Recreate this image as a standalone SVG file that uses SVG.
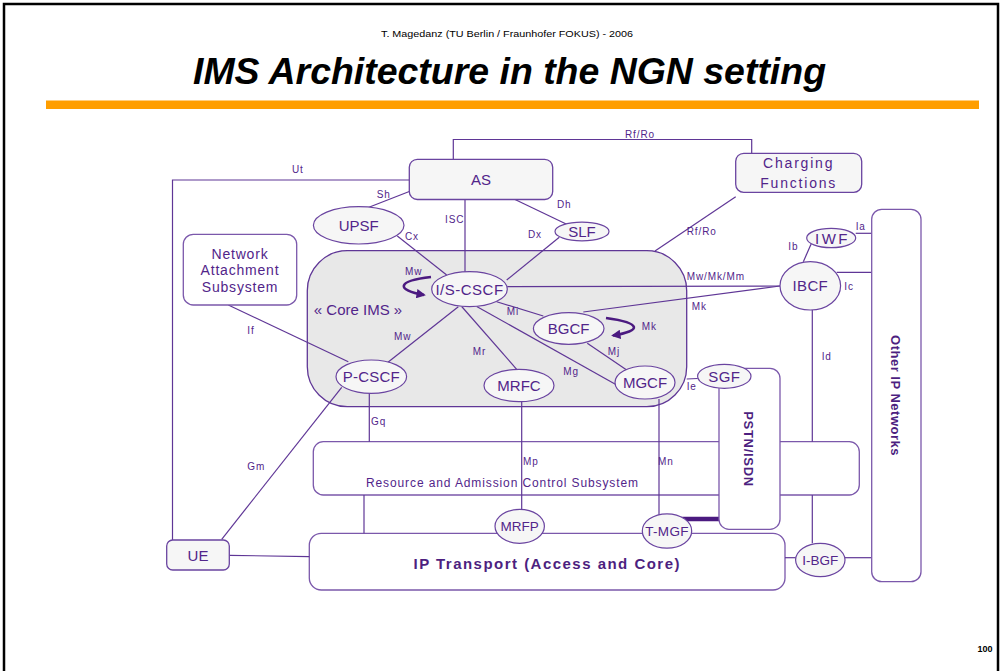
<svg xmlns="http://www.w3.org/2000/svg" width="1002" height="671" viewBox="0 0 1002 671">
<style>
text{font-family:"Liberation Sans",Arial,sans-serif;fill:#52258a}
.lbl{font-size:10px;letter-spacing:0.9px}
.nt{font-size:15px;text-anchor:middle}
.st{font-size:13.5px;text-anchor:middle}
.ell{fill:#f6f6f6;stroke:#6a44a0;stroke-width:1.2}
.box{fill:#fff;stroke:#7b58ab;stroke-width:1.3}
.gbox{fill:#f6f6f6;stroke:#6a44a0;stroke-width:1.3}
.conn line,.conn polyline{stroke:#5f3696;stroke-width:1.2;fill:none}
.loop{stroke:#4b1a80;stroke-width:2.6;fill:none}
</style>
<defs>
<marker id="ah" viewBox="0 0 10 10" refX="8" refY="5" markerWidth="3.6" markerHeight="3.6" orient="auto">
<path d="M0,0 L10,5 L0,10 z" fill="#4b1a80"/>
</marker>
</defs>
<rect width="1002" height="671" fill="#fff"/>
<path d="M4,671 L4,4 L998,4 L998,671" fill="none" stroke="#000" stroke-width="2.5"/>
<text x="507" y="36.5" style="font-size:9.5px;fill:#000" text-anchor="middle" textLength="252" lengthAdjust="spacingAndGlyphs">T. Magedanz (TU Berlin / Fraunhofer FOKUS) - 2006</text>
<text x="509.5" y="84" style="font-size:36px;font-weight:bold;font-style:italic;fill:#000" text-anchor="middle" textLength="633" lengthAdjust="spacingAndGlyphs">IMS Architecture in the NGN setting</text>
<rect x="46" y="100.5" width="933" height="8.5" fill="#ff9e00"/>
<text x="985" y="652" style="font-size:9px;font-weight:bold;fill:#000" text-anchor="middle">100</text>

<g id="core-ims">
<rect x="307.3" y="250.7" width="379.4" height="156" rx="40" fill="#e8e8e8" stroke="#5f3696" stroke-width="1.3"/>
<text x="358" y="314.5" style="font-size:15px" text-anchor="middle">« Core IMS »</text>
</g>
<g id="racs">
<rect class="box" x="313.3" y="441.7" width="546" height="53.3" rx="10"/>
<text x="502" y="486.5" style="font-size:12px" text-anchor="middle" textLength="272" lengthAdjust="spacing">Resource and Admission Control Subsystem</text>
</g>
<g id="ip-transport">
<rect class="box" x="309.3" y="533.3" width="475.7" height="56.7" rx="12"/>
<text x="546.5" y="569" style="font-size:15px;font-weight:bold;fill:#4d1f80" text-anchor="middle" textLength="266" lengthAdjust="spacing">IP Transport (Access and Core)</text>
</g>

<g id="connectors" class="conn">
<polyline points="453.3,159.3 453.3,139.5 751.7,139.5 751.7,153.3"/>
<polyline points="409.3,180 172.5,180 172.5,540"/>
<line x1="409.3" y1="191.5" x2="368.3" y2="207.5"/>
<line x1="397.3" y1="236" x2="446.7" y2="275"/>
<line x1="465" y1="199.5" x2="465" y2="271.7"/>
<line x1="515" y1="199.5" x2="566.7" y2="224.3"/>
<line x1="559.3" y1="237.3" x2="506.7" y2="280"/>
<line x1="655" y1="251" x2="735.7" y2="196.7"/>
<line x1="507.3" y1="286.7" x2="780" y2="286"/>
<line x1="583.3" y1="312" x2="780" y2="286"/>
<line x1="496.7" y1="301.7" x2="543.3" y2="316"/>
<line x1="461.7" y1="306.5" x2="516.7" y2="369.3"/>
<line x1="476.7" y1="306.5" x2="616.7" y2="385"/>
<line x1="458.3" y1="306.7" x2="386.7" y2="363.3"/>
<line x1="587.3" y1="343.3" x2="626.7" y2="370"/>
<line x1="228.3" y1="305" x2="348.3" y2="361.7"/>
<line x1="369.3" y1="393" x2="369.3" y2="441.7"/>
<line x1="341.7" y1="387.3" x2="221.7" y2="539.3"/>
<line x1="521.7" y1="401.7" x2="521.7" y2="509.3"/>
<line x1="659" y1="399" x2="659" y2="515"/>
<line x1="364" y1="495" x2="364" y2="533.3"/>
<line x1="229.3" y1="555.3" x2="309.3" y2="556.7"/>
<line x1="686.7" y1="379" x2="697.7" y2="378.5"/>
<line x1="855.7" y1="233.3" x2="871.7" y2="233.3"/>
<line x1="811.7" y1="242.7" x2="803.3" y2="261.7"/>
<line x1="836.7" y1="272.3" x2="871.7" y2="272.3"/>
<line x1="812.3" y1="310" x2="812.3" y2="441.7"/>
<line x1="812.3" y1="495" x2="812.3" y2="543.3"/>
<line x1="785" y1="557.7" x2="795.7" y2="557.7"/>
<line x1="845" y1="557.7" x2="871.7" y2="557.7"/>
<line x1="680" y1="519" x2="719" y2="519" style="stroke:#4b1a80;stroke-width:4.3"/>
<path class="loop" d="M431,277 C396,281 396,290 424,295" marker-end="url(#ah)"/>
<path class="loop" d="M606,318 C642,323 642,331 613,335.5" marker-end="url(#ah)"/>
<text class="lbl" x="292" y="172.5">Ut</text>
<text class="lbl" x="376.7" y="197.5">Sh</text>
<text class="lbl" x="445" y="223">ISC</text>
<text class="lbl" x="557" y="208">Dh</text>
<text class="lbl" x="528" y="238">Dx</text>
<text class="lbl" x="405" y="240">Cx</text>
<text class="lbl" x="625" y="137.5">Rf/Ro</text>
<text class="lbl" x="686.7" y="234.5">Rf/Ro</text>
<text class="lbl" x="405" y="275">Mw</text>
<text class="lbl" x="686.7" y="279.5">Mw/Mk/Mm</text>
<text class="lbl" x="691.7" y="309.5">Mk</text>
<text class="lbl" x="506.7" y="314.5">Mi</text>
<text class="lbl" x="641.7" y="330">Mk</text>
<text class="lbl" x="607.7" y="354.5">Mj</text>
<text class="lbl" x="472.7" y="354.5">Mr</text>
<text class="lbl" x="563.3" y="375">Mg</text>
<text class="lbl" x="394" y="340">Mw</text>
<text class="lbl" x="247.3" y="333.5">If</text>
<text class="lbl" x="371" y="425">Gq</text>
<text class="lbl" x="247.3" y="469.5">Gm</text>
<text class="lbl" x="523" y="465">Mp</text>
<text class="lbl" x="658" y="465">Mn</text>
<text class="lbl" x="686.7" y="390">Ie</text>
<text class="lbl" x="855.7" y="229.5">Ia</text>
<text class="lbl" x="788.3" y="250">Ib</text>
<text class="lbl" x="844.3" y="289.5">Ic</text>
<text class="lbl" x="821.7" y="360">Id</text>
</g>

<g id="as">
<rect class="gbox" x="409.3" y="159.3" width="143.4" height="40.2" rx="8"/>
<text class="nt" x="481" y="185">AS</text>
</g>
<g id="charging">
<rect class="gbox" x="735.7" y="153.3" width="126" height="39" rx="8"/>
<text x="798.7" y="168" style="font-size:14px;letter-spacing:1.8px" text-anchor="middle">Charging</text>
<text x="798.7" y="187.5" style="font-size:14px;letter-spacing:1.8px" text-anchor="middle">Functions</text>
</g>
<g id="upsf">
<ellipse class="ell" cx="358.7" cy="225.3" rx="45.3" ry="18.7"/>
<text class="nt" x="358.7" y="230.5">UPSF</text>
</g>
<g id="slf">
<ellipse class="ell" cx="582" cy="231.5" rx="27" ry="9.3"/>
<text class="nt" x="582" y="237">SLF</text>
</g>
<g id="nas">
<rect class="box" x="183.3" y="234.3" width="113.4" height="70.7" rx="10"/>
<text x="240" y="258.5" style="font-size:14px;letter-spacing:0.8px" text-anchor="middle">Network</text>
<text x="240" y="275" style="font-size:14px;letter-spacing:0.8px" text-anchor="middle">Attachment</text>
<text x="240" y="291.5" style="font-size:14px;letter-spacing:0.8px" text-anchor="middle">Subsystem</text>
</g>
<g id="is-cscf">
<ellipse class="ell" cx="469.5" cy="289.2" rx="37.8" ry="17.5"/>
<text class="nt" x="469.5" y="294.5" style="letter-spacing:0.5px">I/S-CSCF</text>
</g>
<g id="bgcf">
<ellipse class="ell" cx="568.7" cy="328.5" rx="35.3" ry="15.8"/>
<text class="nt" x="568.7" y="334">BGCF</text>
</g>
<g id="p-cscf">
<ellipse class="ell" cx="371.3" cy="376.7" rx="35.3" ry="16.7"/>
<text class="nt" x="371.3" y="382" style="letter-spacing:0.2px">P-CSCF</text>
</g>
<g id="mrfc">
<ellipse class="ell" cx="519" cy="385.5" rx="35" ry="16.2"/>
<text class="nt" x="519" y="391">MRFC</text>
</g>
<g id="mgcf">
<ellipse class="ell" cx="645" cy="382.5" rx="30" ry="16.5"/>
<text class="nt" x="645" y="388">MGCF</text>
</g>
<g id="pstn">
<rect class="box" x="719" y="368.3" width="61" height="161" rx="10"/>
<text transform="translate(743.5,449) rotate(90)" style="font-size:13px;font-weight:bold;letter-spacing:0.7px;fill:#4d1f80" text-anchor="middle">PSTN/ISDN</text>
</g>
<g id="sgf">
<ellipse class="ell" cx="724.3" cy="376.3" rx="26.7" ry="12"/>
<text class="nt" x="724.3" y="381.5" style="letter-spacing:0.5px">SGF</text>
</g>
<g id="other-ip">
<rect class="box" x="871.7" y="209.3" width="49.3" height="372.4" rx="10"/>
<text transform="translate(890.5,395.5) rotate(90)" style="font-size:13px;font-weight:bold;letter-spacing:0.5px;fill:#4d1f80" text-anchor="middle">Other IP Networks</text>
</g>
<g id="iwf">
<ellipse class="ell" cx="831.2" cy="238" rx="24.5" ry="9.7"/>
<text class="nt" x="832.5" y="243.5" style="letter-spacing:2.5px">IWF</text>
</g>
<g id="ibcf">
<ellipse class="ell" cx="810.3" cy="285.8" rx="30.3" ry="24.2"/>
<text class="nt" x="810.3" y="291.3" style="letter-spacing:0.4px">IBCF</text>
</g>
<g id="ue">
<rect class="gbox" x="166.7" y="540" width="62.6" height="30" rx="6"/>
<text class="nt" x="198" y="560.5">UE</text>
</g>
<g id="mrfp">
<ellipse class="ell" cx="519.7" cy="526.3" rx="24.7" ry="17"/>
<text class="st" x="519.7" y="531">MRFP</text>
</g>
<g id="t-mgf">
<ellipse class="ell" cx="667" cy="531" rx="24.7" ry="17.2"/>
<text class="st" x="667" y="536" style="letter-spacing:0.3px">T-MGF</text>
</g>
<g id="i-bgf">
<ellipse class="ell" cx="820.3" cy="560" rx="24.7" ry="16.7"/>
<text class="st" x="820.3" y="565">I-BGF</text>
</g>
</svg>
